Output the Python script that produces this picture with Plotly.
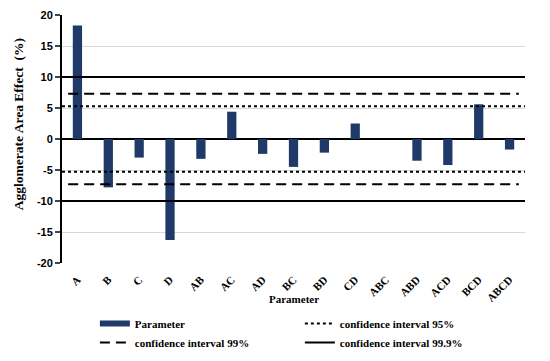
import plotly.graph_objects as go

categories = ["A", "B", "C", "D", "AB", "AC", "AD", "BC", "BD", "CD", "ABC", "ABD", "ACD", "BCD", "ABCD"]
effects = [18.3, -7.8, -3.0, -16.3, -3.2, 4.4, -2.4, -4.5, -2.2, 2.5, 0.0, -3.5, -4.2, 5.6, -1.7]
ci95 = 5.3
ci99 = 7.3
ci999 = 10.0
y_ticks = [-20, -15, -10, -5, 0, 5, 10, 15, 20]

navy = "#1f3a68"
serif = "Liberation Serif"
xpos = list(range(len(categories)))
x0, x1 = -0.5, len(categories) - 0.5

fig = go.Figure()
fig.add_trace(go.Bar(x=xpos, y=effects, marker=dict(color=navy, line=dict(width=0)), width=0.3,
                     showlegend=False, name="Parameter"))
# legend proxy for bars
fig.add_trace(go.Scatter(x=[None], y=[None], mode="lines", line=dict(color=navy, width=6), name="Parameter"))

def hline(v, dash, name, xa=x0, xb=x1):
    fig.add_trace(go.Scatter(x=[xa, xb, None, xa, xb], y=[v, v, None, -v, -v], mode="lines",
                             line=dict(color="black", width=2, dash=dash), name=name))

hline(ci95, "dot", "confidence interval 95%", -0.5, 14.5)
hline(ci99, "10px,6px", "confidence interval 99%", -0.3, 14.3)
hline(ci999, "solid", "confidence interval 99.9%")

fig.update_layout(
    width=542, height=353,
    margin=dict(l=54, r=25, t=7, b=98, autoexpand=False),
    plot_bgcolor="white", paper_bgcolor="white",
    legend=dict(orientation="h", x=0.071, xanchor="left", y=-0.185, yanchor="top",
                entrywidth=160, traceorder="normal",
                font=dict(family=serif, size=11, color="black", weight="bold"),
                tracegroupgap=0, itemwidth=30),
    xaxis=dict(range=[x0, x1], tickvals=xpos, ticktext=categories, tickangle=-45,
               tickfont=dict(family=serif, size=11, color="black", weight="bold"),
               showgrid=False, zeroline=False, showline=False, ticks="outside", ticklen=5, tickcolor="rgba(0,0,0,0)"),
    yaxis=dict(range=[-20, 20], tickvals=y_ticks, ticktext=[str(t) for t in y_ticks],
               tickfont=dict(family="Liberation Sans", size=11, color="black", weight="bold"),
               showgrid=True, gridcolor="#d9d9d9", gridwidth=1,
               zeroline=True, zerolinecolor="black", zerolinewidth=2,
               showline=True, linecolor="black", linewidth=2, ticks="outside", ticklen=5, tickwidth=2),
    annotations=[
        dict(text="Parameter", xref="paper", yref="paper", x=0.5, y=-0.145, xanchor="center", yanchor="middle",
             showarrow=False, font=dict(family=serif, size=11, color="black", weight="bold")),
        dict(text="Agglomerate Area Effect  (%)", xref="paper", yref="paper", x=-0.095, y=0.56,
             xanchor="center", yanchor="middle", textangle=-90,
             showarrow=False, font=dict(family=serif, size=13.5, color="black", weight="bold")),
    ],
)

fig.write_html("out.html")
